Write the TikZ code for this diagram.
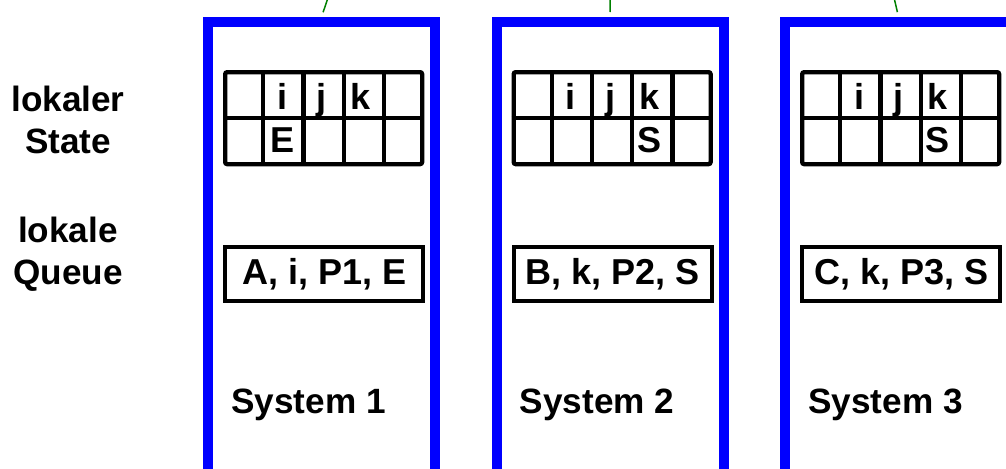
\documentclass[tikz,border=0pt]{standalone}
\usepackage{fontspec}
\setmainfont{Liberation Sans}
\usepackage{xcolor}
\usepackage{tikz}
\usetikzlibrary{positioning,calc}
\definecolor{rblau}{HTML}{0000FF}
\definecolor{lgruen}{HTML}{008000}
\tikzset{
  rahmen/.style={rectangle, draw=rblau, line width=2mm, minimum width=45.4mm,
    minimum height=100mm, anchor=north, inner sep=0pt},
  tabelle/.style={rectangle, rounded corners=0.4mm, draw, line width=0.85mm,
    minimum width=39.4mm, minimum height=18.4mm, inner sep=0pt, anchor=north west},
  raster/.style={line width=0.85mm},
  zeichen/.style={anchor=base, inner sep=0pt, font=\bfseries\fontsize{20.5}{24}\selectfont},
  schlange/.style={rectangle, draw, line width=0.85mm, minimum width=39.6mm,
    minimum height=10.8mm, inner sep=0pt, anchor=north west,
    font=\bfseries\fontsize{20.5}{24}\selectfont},
  sysname/.style={anchor=west, inner sep=0pt, font=\bfseries\fontsize{20}{24}\selectfont},
  etikett/.style={align=center, inner sep=0pt, font=\bfseries\fontsize{20}{24}\selectfont},
  verbindung/.style={draw=lgruen, line width=0.3mm, shorten >=1mm},
}

\begin{document}
\begin{tikzpicture}[x=0.2mm,y=-0.2mm]
  \useasboundingbox (0,0) rectangle (1006,468);
  \clip (0,0) rectangle (1006,468);
  \node[etikett] (ls) at (68,120) {lokaler\\State};
  \node[etikett] (lq) at (68,254) {lokale\\Queue};
  \coordinate (oben1) at (334,-20);
  \coordinate (oben2) at (610.5,-20);
  \coordinate (oben3) at (890,-20);
  \foreach \n/\q/\b/\sp in {1/{A, i, P1, E}/E/2, 2/{B, k, P2, S}/S/4, 3/{C, k, P3, S}/S/4}{
    \pgfmathsetmacro\xo{208+288.5*(\n-1)}
    \node[rahmen] (sys\n) at (\xo+113.5,17) {};
    \draw[verbindung] (oben\n) -- (sys\n.north);
    % lokaler State
    \node[tabelle] (tab\n) at (\xo+15,70) {};
    \foreach \c in {1,...,4}
      \draw[raster] ($(tab\n.north west)!\c/5!(tab\n.north east)$) -- ($(tab\n.south west)!\c/5!(tab\n.south east)$);
    \draw[raster] (tab\n.west) -- (tab\n.east);
    \node[zeichen] (i\n) at (\xo+15+39.4*1.5,109.5) {i};
    \node[zeichen] (j\n) at (\xo+15+39.4*2.5,109.5) {j};
    \node[zeichen] (k\n) at (\xo+15+39.4*3.5,109.5) {k};
    \node[zeichen] (z\n) at (\xo+15+39.4*\sp-19.7,152) {\b};
    % lokale Queue
    \node[schlange] (q\n) at (\xo+15,245) {\q};
    \node[sysname] (name\n) at (\xo+23,405) {System \n};
  }
\end{tikzpicture}
\end{document}
